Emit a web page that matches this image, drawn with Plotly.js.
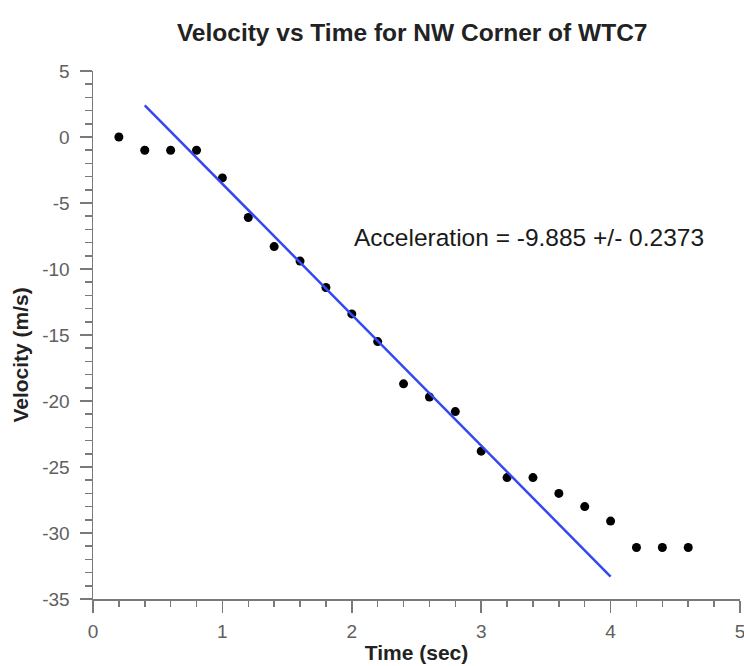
<!DOCTYPE html>
<html>
<head>
<meta charset="utf-8">
<script src="https://cdn.plot.ly/plotly-3.0.1.min.js"></script>
<style>html,body{margin:0;padding:0;background:#fff;}#chart{width:744px;height:666px;}</style>
</head>
<body>
<div id="chart"></div>
<script>
var timeSec = [0.2,0.4,0.6,0.8,1.0,1.2,1.4,1.6,1.8,2.0,2.2,2.4,2.6,2.8,3.0,3.2,3.4,3.6,3.8,4.0,4.2,4.4,4.6];
var velocity = [0,-1,-1,-1,-3.1,-6.1,-8.3,-9.4,-11.4,-13.4,-15.5,-18.7,-19.7,-20.8,-23.8,-25.8,-25.8,-27.0,-28.0,-29.1,-31.1,-31.1,-31.1];
var fitTime = [0.4, 4.0];
var fitVelocity = [2.4, -33.3];
var xTickVals = [0, 1, 2, 3, 4, 5];
var xTickText = ["0", "1", "2", "3", "4", "5"];
var yTickVals = [5, 0, -5, -10, -15, -20, -25, -30, -35];
var yTickText = ["5", "0", "-5", "-10", "-15", "-20", "-25", "-30", "-35"];
var titleText = "Velocity vs Time for NW Corner of WTC7";
var xTitle = "Time (sec)";
var yTitle = "Velocity (m/s)";
var noteText = "Acceleration = -9.885 +/- 0.2373";

var axisColor = "#7a7a7a";
var fam = "Liberation Sans, Arial, sans-serif";
var tickFont = {family: fam, size: 19, color: "#606060"};

var data = [
  {x: timeSec, y: velocity, type: "scatter", mode: "markers",
   marker: {color: "#000", size: 9}, cliponaxis: false},
  {x: fitTime, y: fitVelocity, type: "scatter", mode: "lines",
   line: {color: "#3448f2", width: 2.5}}
];

var layout = {
  width: 744, height: 666,
  paper_bgcolor: "#fff", plot_bgcolor: "#fff",
  showlegend: false,
  margin: {l: 93, r: 4, t: 71, b: 67},
  title: {text: "<b>" + titleText + "</b>", x: 0.554, xanchor: "center", y: 0.951, yanchor: "middle",
          font: {family: fam, size: 24.5, color: "#222"}},
  xaxis: {
    range: [0, 5], tickmode: "array", tickvals: xTickVals, ticktext: xTickText,
    showgrid: false, zeroline: false,
    showline: true, linecolor: axisColor, linewidth: 1.5,
    ticks: "outside", ticklen: 12, tickwidth: 1.5, tickcolor: axisColor,
    tickfont: tickFont, ticklabelstandoff: 3, ticklabeloverflow: "allow",
    minor: {ticks: "outside", ticklen: 6, tickwidth: 1.5, tickcolor: axisColor, dtick: 0.2, tick0: 0, showgrid: false},
    title: {text: "<b>" + xTitle + "</b>", standoff: 4,
            font: {family: fam, size: 21, color: "#222"}}
  },
  yaxis: {
    range: [-35, 5], tickmode: "array", tickvals: yTickVals, ticktext: yTickText,
    showgrid: false, zeroline: false,
    showline: true, linecolor: axisColor, linewidth: 1.5,
    ticks: "outside", ticklen: 12, tickwidth: 1.5, tickcolor: axisColor,
    tickfont: tickFont, ticklabelstandoff: 6,
    minor: {ticks: "outside", ticklen: 7, tickwidth: 1.5, tickcolor: axisColor, dtick: 1, tick0: 0, showgrid: false}
  },
  annotations: [
    {text: noteText, xref: "x", yref: "y", x: 3.37, y: -7.6, xanchor: "center", yanchor: "middle",
     showarrow: false, font: {family: fam, size: 24.5, color: "#1a1a1a"}},
    {text: "<b>" + yTitle + "</b>", xref: "paper", yref: "paper", x: -0.112, xanchor: "center",
     y: 0.462, yanchor: "middle", textangle: -90, showarrow: false,
     font: {family: fam, size: 21, color: "#222"}}
  ]
};

Plotly.newPlot("chart", data, layout, {displayModeBar: false, staticPlot: true});
</script>
</body>
</html>
